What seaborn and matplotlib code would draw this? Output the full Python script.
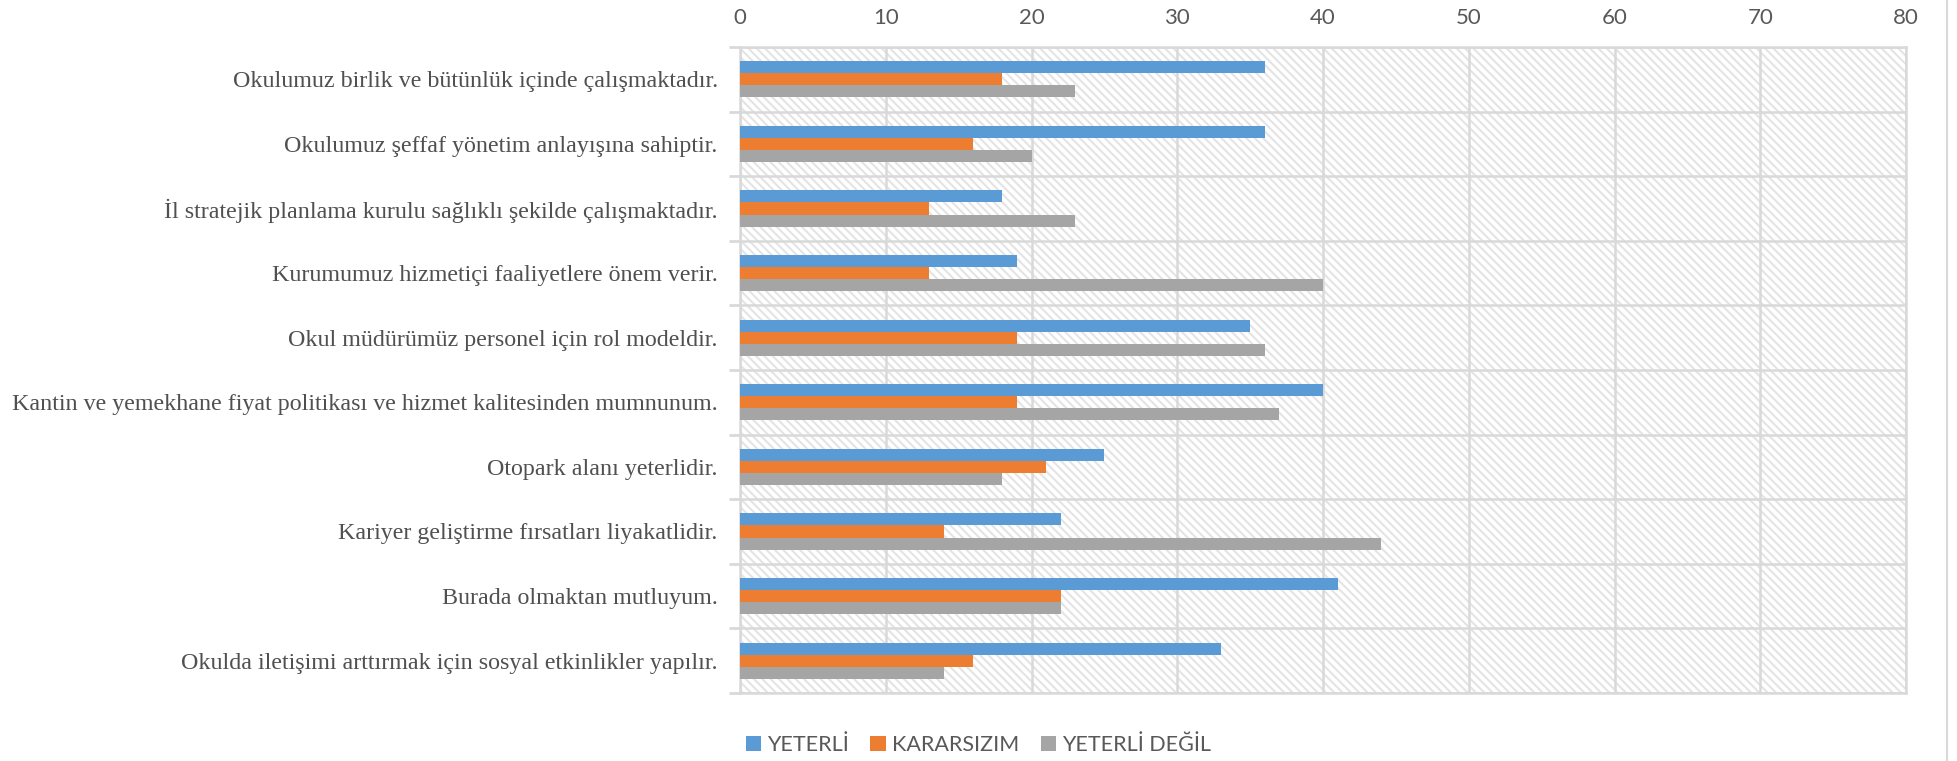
import matplotlib
matplotlib.use("Agg")
import matplotlib.pyplot as plt
import seaborn as sns
import pandas as pd
import numpy as np
from matplotlib.patches import Rectangle, Patch
from matplotlib.lines import Line2D
from matplotlib.ticker import FixedLocator

categories = [
    "Okulumuz birlik ve bütünlük içinde çalışmaktadır.",
    "Okulumuz şeffaf yönetim anlayışına sahiptir.",
    "İl stratejik planlama kurulu sağlıklı şekilde çalışmaktadır.",
    "Kurumumuz hizmetiçi faaliyetlere önem verir.",
    "Okul müdürümüz personel için rol modeldir.",
    "Kantin ve yemekhane fiyat politikası ve hizmet kalitesinden mumnunum.",
    "Otopark alanı yeterlidir.",
    "Kariyer geliştirme fırsatları liyakatlidir.",
    "Burada olmaktan mutluyum.",
    "Okulda iletişimi arttırmak için sosyal etkinlikler yapılır.",
]
series_names = ["YETERLİ", "KARARSIZIM", "YETERLİ DEĞİL"]
yeterli = [36, 36, 18, 19, 35, 40, 25, 22, 41, 33]
kararsizim = [18, 16, 13, 13, 19, 19, 21, 14, 22, 16]
yeterli_degil = [23, 20, 23, 40, 36, 37, 18, 44, 22, 14]
x_ticks = [0, 10, 20, 30, 40, 50, 60, 70, 80]
colors = ["#5B9BD5", "#ED7D31", "#A5A5A5"]

rows = []
for vals, name in zip([yeterli, kararsizim, yeterli_degil], series_names):
    for c, v in zip(categories, vals):
        rows.append({"Kategori": c, "Seri": name, "Değer": v})
df = pd.DataFrame(rows)

sns.set_style("white")
plt.rcParams["hatch.linewidth"] = 1.5

fig = plt.figure(figsize=(19.57, 7.61), dpi=100)
ax = fig.add_axes([740 / 1957, 1 - 693 / 761, (1906 - 740) / 1957, (693 - 47) / 761])

# hatched background
bg = Rectangle((0, 0), 1, 1, transform=ax.transAxes, facecolor="white",
               edgecolor="#e4e4e4", linewidth=0, hatch="\\\\\\\\", zorder=0)
ax.add_patch(bg)

sns.barplot(data=df, x="Değer", y="Kategori", hue="Seri", order=categories,
            hue_order=series_names, palette=colors, orient="h", width=0.56,
            gap=0, saturation=1, linewidth=0, ax=ax, legend=False, zorder=3)

ax.set_xlim(0, 80)
ax.set_ylim(len(categories) - 0.5, -0.5)
ax.xaxis.tick_top()
ax.set_xticks(x_ticks)
ax.set_xticklabels([str(t) for t in x_ticks], family="Lato", fontsize=16, color="#595959")
ax.tick_params(axis="x", length=0, pad=14, top=True, bottom=False)
ax.set_xlabel("")
ax.set_ylabel("")

ax.set_yticks(range(len(categories)))
ax.set_yticklabels(categories, family="Liberation Serif", fontsize=17.3, color="#505050")
ax.tick_params(axis="y", which="major", length=0, pad=16)
ax.yaxis.set_minor_locator(FixedLocator(np.arange(-0.5, len(categories), 1.0)))
ax.tick_params(axis="y", which="minor", length=8, width=2, color="#d9d9d9", left=True)

ax.grid(axis="x", which="major", color="#d9d9d9", linewidth=1.8, zorder=1)
ax.grid(axis="y", which="minor", color="#d9d9d9", linewidth=1.8, zorder=1)
ax.grid(axis="y", which="major", visible=False)
ax.set_axisbelow(True)
for s in ax.spines.values():
    s.set_color("#d9d9d9")
    s.set_linewidth(1.8)
    s.set_visible(True)

handles = [Patch(facecolor=c, edgecolor="none") for c in colors]
fig.legend(handles, series_names, loc="center", bbox_to_anchor=(0.5, 1 - 745 / 761),
           ncol=3, frameon=False, handlelength=0.7, handleheight=0.7,
           handletextpad=0.3, columnspacing=1.0,
           prop={"family": "Lato", "size": 15.5}, labelcolor="#595959")

fig.add_artist(Line2D([1947 / 1957, 1947 / 1957], [0, 1], transform=fig.transFigure,
                      color="#d9d9d9", linewidth=1.5))

fig.savefig("out.png", dpi=100)
